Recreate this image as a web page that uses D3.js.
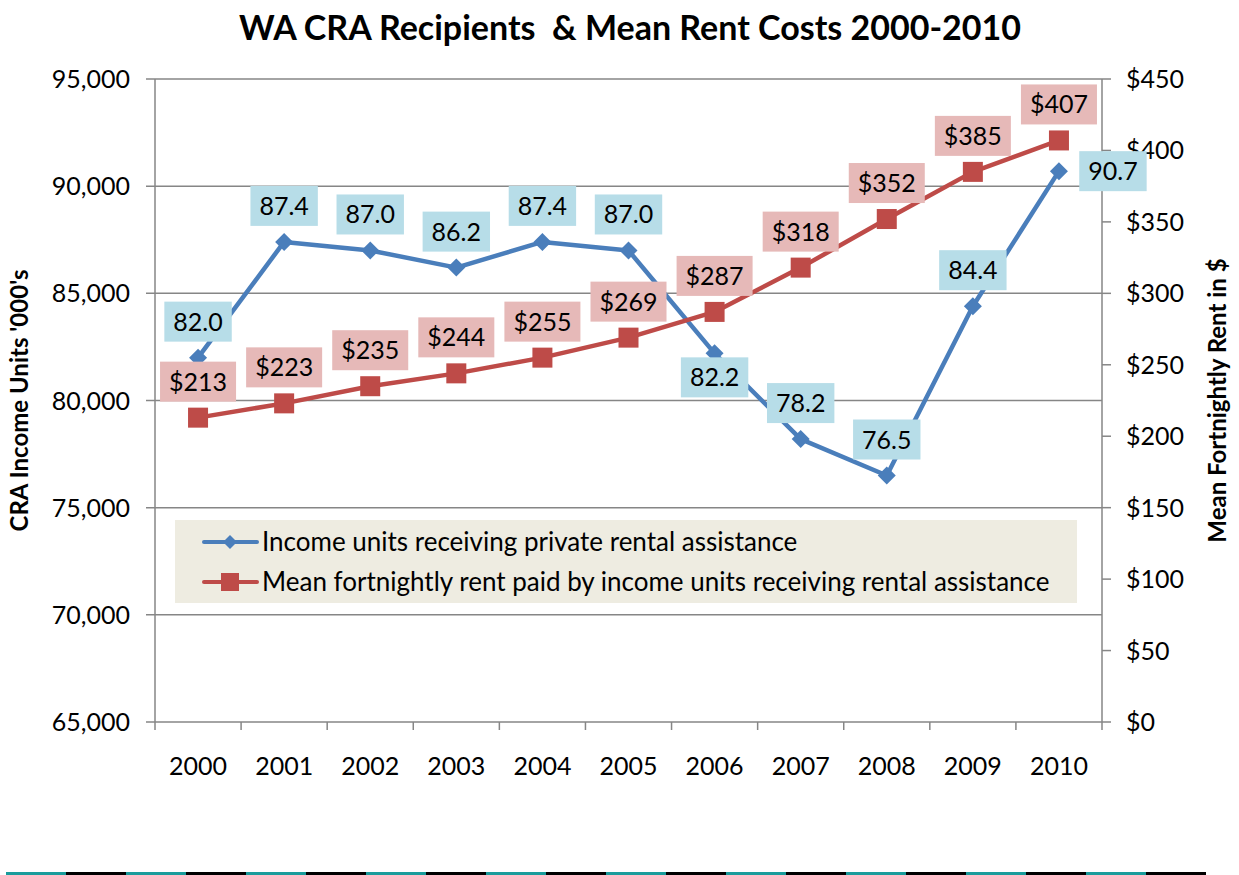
<!DOCTYPE html>
<html>
<head>
<meta charset="utf-8">
<script src="https://cdn.jsdelivr.net/npm/d3@7"></script>
<style>
  body { margin: 0; background: #fff; }
  svg { display: block; font-family: Lato, "Noto Sans", sans-serif; }
</style>
</head>
<body>
<svg id="chart" width="1239" height="875"></svg>
<script>
// data
var years = ['2000', '2001', '2002', '2003', '2004', '2005', '2006', '2007', '2008', '2009', '2010'];
var incomeUnits = [82.0, 87.4, 87.0, 86.2, 87.4, 87.0, 82.2, 78.2, 76.5, 84.4, 90.7]; // thousands
var meanRent = [213, 223, 235, 244, 255, 269, 287, 318, 352, 385, 407];
// where each blue label sits relative to its point
var incomeLabelPos = ['above', 'above', 'above', 'above', 'above', 'above', 'below', 'above', 'above', 'above', 'right'];
var leftTicks = [65000, 70000, 75000, 80000, 85000, 90000, 95000];
var rightTicks = [0, 50, 100, 150, 200, 250, 300, 350, 400, 450];
var seriesNames = [
	'Income units receiving private rental assistance',
	'Mean fortnightly rent paid by income units receiving rental assistance'
];

// config
var plotLeft = 155, plotRight = 1102, plotTop = 79, plotBottom = 722;
var blue = '#4a7ebb', red = '#be4b48';
var blueLabelBg = '#b7dde8', redLabelBg = '#e6b9b8';
var gridColor = '#868686';
var tickFont = 25;

var svg = d3.select('#chart');

var x = d3.scaleBand().domain(years).range([plotLeft, plotRight]);
var yLeft = d3.scaleLinear().domain([65000, 95000]).range([plotBottom, plotTop]);
var yRight = d3.scaleLinear().domain([0, 450]).range([plotBottom, plotTop]);
function cx(d) { return x(d) + x.bandwidth() / 2; }

// title
svg.append('text')
	.attr('x', 630).attr('y', 40)
	.attr('text-anchor', 'middle')
	.attr('font-size', 34).attr('font-weight', 'bold')
	.style('white-space', 'pre')
	.text('WA CRA Recipients  & Mean Rent Costs 2000-2010');

// gridlines (left axis)
svg.append('g').selectAll('line')
	.data(leftTicks).enter().append('line')
	.attr('x1', plotLeft - 9).attr('x2', plotRight)
	.attr('y1', function(d) { return yLeft(d); })
	.attr('y2', function(d) { return yLeft(d); })
	.attr('stroke', gridColor).attr('stroke-width', 1.5);

// axis lines
svg.append('line').attr('x1', plotLeft).attr('x2', plotLeft)
	.attr('y1', plotTop).attr('y2', plotBottom + 8)
	.attr('stroke', gridColor).attr('stroke-width', 1.5);
svg.append('line').attr('x1', plotRight).attr('x2', plotRight)
	.attr('y1', plotTop).attr('y2', plotBottom)
	.attr('stroke', gridColor).attr('stroke-width', 1.5);

// left labels
svg.append('g').selectAll('text')
	.data(leftTicks).enter().append('text')
	.attr('x', 130)
	.attr('y', function(d) { return yLeft(d) + 9; })
	.attr('text-anchor', 'end').attr('font-size', tickFont)
	.text(function(d) { return d3.format(',')(d); });

// right ticks + labels
svg.append('g').selectAll('line')
	.data(rightTicks).enter().append('line')
	.attr('x1', plotRight).attr('x2', plotRight + 9)
	.attr('y1', function(d) { return yRight(d); })
	.attr('y2', function(d) { return yRight(d); })
	.attr('stroke', gridColor).attr('stroke-width', 1.5);
svg.append('g').selectAll('text')
	.data(rightTicks).enter().append('text')
	.attr('x', 1126)
	.attr('y', function(d) { return yRight(d) + 9; })
	.attr('font-size', tickFont)
	.text(function(d) { return '$' + d; });

// x ticks between categories
var xTickPos = years.slice(1).map(function(d) { return x(d); }).concat([plotRight]);
svg.append('g').selectAll('line')
	.data(xTickPos).enter().append('line')
	.attr('x1', function(d) { return d; }).attr('x2', function(d) { return d; })
	.attr('y1', plotBottom).attr('y2', plotBottom + 8)
	.attr('stroke', gridColor).attr('stroke-width', 1.5);
svg.append('g').selectAll('text')
	.data(years).enter().append('text')
	.attr('x', cx)
	.attr('y', 775)
	.attr('text-anchor', 'middle').attr('font-size', tickFont)
	.text(function(d) { return d; });

// axis titles
svg.append('text')
	.attr('transform', 'translate(28,' + ((plotTop + plotBottom) / 2) + ') rotate(-90)')
	.attr('text-anchor', 'middle').attr('font-size', 24).attr('font-weight', 'bold')
	.text("CRA Income Units '000's");
svg.append('text')
	.attr('transform', 'translate(1226,' + ((plotTop + plotBottom) / 2) + ') rotate(-90)')
	.attr('text-anchor', 'middle').attr('font-size', 24).attr('font-weight', 'bold')
	.text('Mean Fortnightly Rent in $');

// legend
var legend = svg.append('g');
legend.append('rect')
	.attr('x', 175).attr('y', 520).attr('width', 902).attr('height', 83)
	.attr('fill', '#eeece1');
var legendRows = legend.selectAll('g.row')
	.data(seriesNames).enter().append('g')
	.attr('class', 'row')
	.attr('transform', function(d, i) { return 'translate(0,' + (542 + i * 40) + ')'; });
legendRows.append('line')
	.attr('x1', 204).attr('x2', 257)
	.attr('stroke', function(d, i) { return i === 0 ? blue : red; })
	.attr('stroke-width', 4).attr('stroke-linecap', 'round');
legendRows.append('path')
	.attr('transform', 'translate(230,0)')
	.attr('d', function(d, i) {
		return i === 0 ? 'M0,-7L7,0L0,7L-7,0Z' : 'M-9,-9H9V9H-9Z';
	})
	.attr('fill', function(d, i) { return i === 0 ? blue : red; });
legendRows.append('text')
	.attr('x', 262).attr('y', 9)
	.attr('font-size', 26)
	.text(function(d) { return d; });

// lines
var blueLine = d3.line()
	.x(function(d, i) { return cx(years[i]); })
	.y(function(d) { return yLeft(d * 1000); });
var redLine = d3.line()
	.x(function(d, i) { return cx(years[i]); })
	.y(function(d) { return yRight(d); });

svg.append('path').datum(incomeUnits)
	.attr('d', blueLine).attr('fill', 'none')
	.attr('stroke', blue).attr('stroke-width', 4.5).attr('stroke-linejoin', 'round');
svg.append('path').datum(meanRent)
	.attr('d', redLine).attr('fill', 'none')
	.attr('stroke', red).attr('stroke-width', 4.5).attr('stroke-linejoin', 'round');

// markers
svg.append('g').selectAll('path')
	.data(incomeUnits).enter().append('path')
	.attr('transform', function(d, i) {
		return 'translate(' + cx(years[i]) + ',' + yLeft(d * 1000) + ')';
	})
	.attr('d', 'M0,-9L9,0L0,9L-9,0Z')
	.attr('fill', blue);
svg.append('g').selectAll('rect')
	.data(meanRent).enter().append('rect')
	.attr('x', function(d, i) { return cx(years[i]) - 10; })
	.attr('y', function(d) { return yRight(d) - 10; })
	.attr('width', 20).attr('height', 20)
	.attr('fill', red);

// data labels
function addLabels(values, fmt, yScale, posList, bg) {
	var g = svg.append('g');
	values.forEach(function(v, i) {
		var px = cx(years[i]);
		var py = yScale(v);
		var pos = posList[i];
		var lx = px, ly = py - 36;
		if (pos === 'below') ly = py + 24;
		if (pos === 'right') { lx = px + 54; ly = py; }
		var label = g.append('g').attr('transform', 'translate(' + lx + ',' + ly + ')');
		var t = label.append('text')
			.attr('text-anchor', 'middle').attr('y', 9)
			.attr('font-size', 25)
			.text(fmt(v));
		var w = t.node().getComputedTextLength() + 18;
		label.insert('rect', 'text')
			.attr('x', -w / 2).attr('y', -20)
			.attr('width', w).attr('height', 40)
			.attr('fill', bg);
	});
}
addLabels(incomeUnits, function(d) { return d.toFixed(1); },
	function(d) { return yLeft(d * 1000); }, incomeLabelPos, blueLabelBg);
addLabels(meanRent, function(d) { return '$' + d; },
	yRight, meanRent.map(function() { return 'above'; }), redLabelBg);

// bottom strip
var stripColors = d3.range(20).map(function(i) { return i % 2 === 0 ? '#1a9c9c' : '#000000'; });
svg.append('g').selectAll('rect')
	.data(stripColors).enter().append('rect')
	.attr('x', function(d, i) { return 6 + i * 60; })
	.attr('y', 872).attr('width', 60).attr('height', 3)
	.attr('fill', function(d) { return d; });
</script>
</body>
</html>
